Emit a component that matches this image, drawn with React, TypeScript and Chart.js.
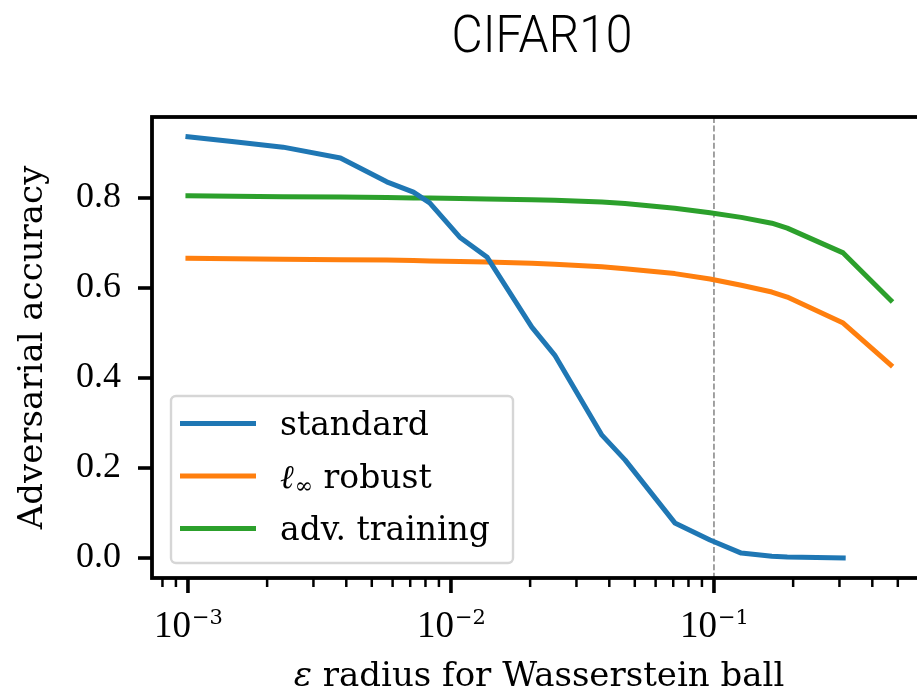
import React, { useEffect, useRef } from 'react';
import { Chart, registerables } from 'chart.js';

Chart.register(...registerables);

// ---------- data ----------
const TITLE = 'CIFAR10';
const X_LABEL_SYMBOL = 'ε';
const X_LABEL_TEXT = ' radius for Wasserstein ball';
const Y_LABEL = 'Adversarial accuracy';

const eps = [0.001, 0.0015, 0.0023, 0.0038, 0.0057, 0.0072, 0.0083, 0.0108, 0.0137, 0.0203, 0.0248, 0.0375, 0.0459, 0.071, 0.0966, 0.127, 0.166, 0.19, 0.31, 0.47];
const standardAcc = [0.936, 0.925, 0.913, 0.889, 0.836, 0.813, 0.789, 0.713, 0.669, 0.513, 0.451, 0.273, 0.218, 0.078, 0.04, 0.011, 0.004, 0.002, 0.0, null];
const linfRobustAcc = [0.666, 0.665, 0.664, 0.663, 0.662, 0.661, 0.660, 0.659, 0.658, 0.655, 0.653, 0.647, 0.643, 0.632, 0.620, 0.606, 0.591, 0.580, 0.522, 0.429];
const advTrainingAcc = [0.805, 0.804, 0.803, 0.802, 0.801, 0.800, 0.800, 0.799, 0.798, 0.796, 0.795, 0.791, 0.788, 0.777, 0.767, 0.757, 0.744, 0.733, 0.678, 0.573];

const seriesNames = ['standard', 'ℓ∞ robust', 'adv. training'];
const seriesColors = ['#1f77b4', '#ff7f0e', '#2ca02c'];

const yTickValues = [0, 0.2, 0.4, 0.6, 0.8];
const xDecadeExps = [-4, -3, -2, -1, 0];
const thresholdEps = 0.1;

const X_MIN = 7.3e-4;
const X_MAX = 0.64;
const Y_MIN = -0.0444;
const Y_MAX = 0.98;

// ---------- fonts ----------
const SERIF = '"DejaVu Serif", serif';
const NUM_SERIF = '"Liberation Serif", "Times New Roman", serif';
const LINE_W = 5;

const decorPlugin = {
  id: 'decor',
  beforeDatasetsDraw(chart: any) {
    const { ctx, chartArea: a, scales } = chart;
    const px = scales.x.getPixelForValue(thresholdEps);
    ctx.save();
    ctx.strokeStyle = '#7a7a7a';
    ctx.lineWidth = 1.4;
    ctx.setLineDash([6, 2.6]);
    ctx.beginPath();
    ctx.moveTo(px, a.top);
    ctx.lineTo(px, a.bottom);
    ctx.stroke();
    ctx.restore();
  },
  afterDraw(chart: any) {
    const { ctx, chartArea: a, scales } = chart;
    const xs = scales.x;
    const ys = scales.y;
    ctx.save();

    // spines
    ctx.strokeStyle = '#000';
    ctx.lineWidth = 3.8;
    ctx.lineJoin = 'miter';
    ctx.strokeRect(a.left, a.top, a.right - a.left, a.bottom - a.top);

    // x ticks
    for (const t of xs.ticks) {
      const px = xs.getPixelForValue(t.value);
      if (px < a.left - 0.5 || px > a.right + 0.5) continue;
      const major = t.major;
      ctx.lineWidth = major ? 3.6 : 2.5;
      ctx.beginPath();
      ctx.moveTo(px, a.bottom);
      ctx.lineTo(px, a.bottom + (major ? 15 : 9));
      ctx.stroke();
      if (major) {
        const exp = Math.round(Math.log10(t.value));
        const base = '10';
        const sup = (exp < 0 ? '\u2212' : '') + Math.abs(exp);
        ctx.font = '37px ' + NUM_SERIF;
        const wb = ctx.measureText(base).width;
        ctx.font = '21px ' + SERIF;
        const ws = ctx.measureText(sup).width;
        const start = px - (wb + ws) / 2;
        ctx.fillStyle = '#000';
        ctx.textAlign = 'left';
        ctx.textBaseline = 'alphabetic';
        ctx.font = '37px ' + NUM_SERIF;
        ctx.fillText(base, start, 637);
        ctx.font = '21px ' + SERIF;
        ctx.fillText(sup, start + wb + 1, 624);
      }
    }

    // y ticks
    ctx.lineWidth = 3.6;
    for (const t of ys.ticks) {
      const py = ys.getPixelForValue(t.value);
      ctx.beginPath();
      ctx.moveTo(a.left - 14, py);
      ctx.lineTo(a.left, py);
      ctx.stroke();
    }

    // x label
    ctx.fillStyle = '#000';
    ctx.textBaseline = 'alphabetic';
    ctx.textAlign = 'left';
    ctx.font = 'italic 34px ' + SERIF;
    const we = ctx.measureText(X_LABEL_SYMBOL).width;
    ctx.font = '34px ' + SERIF;
    const wr = ctx.measureText(X_LABEL_TEXT).width;
    const cx = (a.left + a.right) / 2;
    const sx = cx - (we + wr) / 2;
    ctx.font = 'italic 34px ' + SERIF;
    ctx.fillText(X_LABEL_SYMBOL, sx, 686);
    ctx.font = '34px ' + SERIF;
    ctx.fillText(X_LABEL_TEXT, sx + we, 686);

    // legend
    const L = a.left + 19, T = 396, R = 513, B = a.bottom - 15, r = 5;
    ctx.beginPath();
    ctx.moveTo(L + r, T);
    ctx.lineTo(R - r, T);
    ctx.arcTo(R, T, R, T + r, r);
    ctx.lineTo(R, B - r);
    ctx.arcTo(R, B, R - r, B, r);
    ctx.lineTo(L + r, B);
    ctx.arcTo(L, B, L, B - r, r);
    ctx.lineTo(L, T + r);
    ctx.arcTo(L, T, L + r, T, r);
    ctx.closePath();
    ctx.fillStyle = 'rgba(255,255,255,0.8)';
    ctx.fill();
    ctx.strokeStyle = '#d6d6d6';
    ctx.lineWidth = 2.4;
    ctx.stroke();

    chart.data.datasets.forEach((ds: any, i: number) => {
      const ly = 423.5 + i * 52.5;
      ctx.strokeStyle = ds.borderColor;
      ctx.lineWidth = LINE_W;
      ctx.lineCap = 'butt';
      ctx.beginPath();
      ctx.moveTo(180, ly);
      ctx.lineTo(256, ly);
      ctx.stroke();
      ctx.fillStyle = '#000';
      const label: string = ds.label;
      const base = ly + 11.5;
      if (label.startsWith('ℓ∞')) {
        let x = 280;
        ctx.font = 'italic 33px ' + SERIF;
        ctx.fillText('ℓ', x, base);
        x += ctx.measureText('ℓ').width + 1;
        ctx.font = '22px ' + SERIF;
        ctx.fillText('∞', x, base + 5);
        x += ctx.measureText('∞').width;
        ctx.font = '33px ' + SERIF;
        ctx.fillText(label.slice(2), x, base);
      } else {
        ctx.font = '33px ' + SERIF;
        ctx.fillText(label, 280, base);
      }
    });

    // title
    ctx.font = '300 51px Roboto, "Liberation Sans", sans-serif';
    ctx.textAlign = 'center';
    ctx.textBaseline = 'alphabetic';
    ctx.fillStyle = '#000';
    const tw = ctx.measureText(TITLE).width;
    ctx.translate(542, 52);
    ctx.scale(181 / tw, 1);
    ctx.fillText(TITLE, 0, 0);

    ctx.restore();
  },
};

export default function App() {
  const ref = useRef<HTMLCanvasElement | null>(null);

  useEffect(() => {
    if (!ref.current) return;
    const datasets = [standardAcc, linfRobustAcc, advTrainingAcc].map((d, i) => ({
      label: seriesNames[i],
      data: d,
      borderColor: seriesColors[i],
      backgroundColor: seriesColors[i],
      borderWidth: LINE_W,
      pointRadius: 0,
      tension: 0,
      fill: false,
      borderJoinStyle: 'round',
      borderCapStyle: 'square',
      spanGaps: false,
    }));
    const chart = new Chart(ref.current, {
      type: 'line',
      data: { labels: eps, datasets } as any,
      options: {
        responsive: false,
        animation: false,
        devicePixelRatio: 1,
        layout: { padding: { top: 117, right: 34, left: 0, bottom: 0 } },
        plugins: { legend: { display: false }, title: { display: false }, tooltip: { enabled: false } },
        scales: {
          x: {
            type: 'logarithmic',
            min: X_MIN,
            max: X_MAX,
            grid: { display: false, drawTicks: false },
            border: { display: false },
            ticks: { display: false },
            afterBuildTicks: (scale: any) => {
              const ticks: any[] = [];
              for (const e of xDecadeExps) {
                for (let m = 1; m <= 9; m++) {
                  const v = m * Math.pow(10, e);
                  if (v >= X_MIN && v <= X_MAX) ticks.push({ value: v, major: m === 1 });
                }
              }
              scale.ticks = ticks;
            },
            afterFit: (scale: any) => { scale.height = 113; },
          },
          y: {
            type: 'linear',
            min: Y_MIN,
            max: Y_MAX,
            grid: { display: false, drawTicks: false },
            border: { display: false },
            ticks: {
              padding: 31,
              color: '#000',
              font: { family: NUM_SERIF, size: 36 },
              callback: (v: any) => Number(v).toFixed(1),
            },
            afterBuildTicks: (scale: any) => {
              scale.ticks = yTickValues.map((v) => ({ value: v }));
            },
            afterFit: (scale: any) => { scale.width = 152; },
            title: {
              display: true,
              text: Y_LABEL,
              color: '#000',
              font: { family: SERIF, size: 34 },
              padding: { top: 13, bottom: 0 },
            },
          },
        },
      } as any,
      plugins: [decorPlugin],
    });
    return () => chart.destroy();
  }, []);

  return (
    <div style={{ position: 'fixed', left: 0, top: 0, width: 917, height: 691, overflow: 'hidden', background: '#fff' }}>
      <canvas ref={ref} width={960} height={691} style={{ display: 'block', width: 960, height: 691 }} />
    </div>
  );
}
